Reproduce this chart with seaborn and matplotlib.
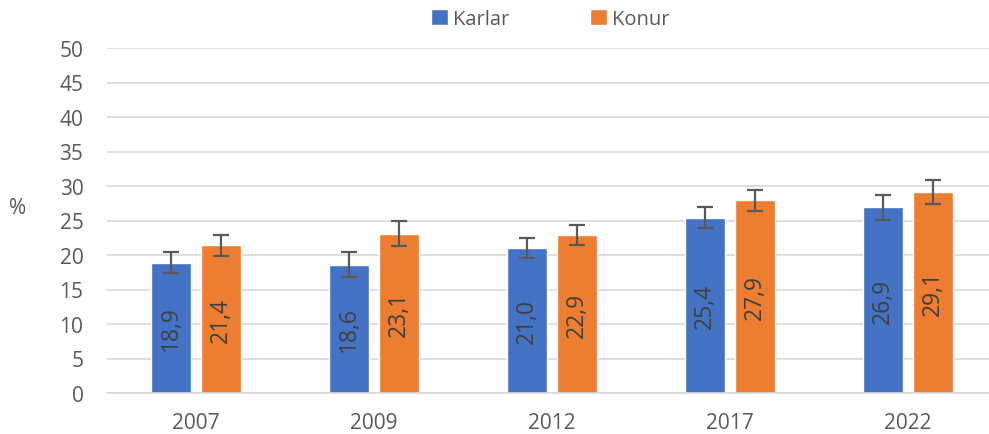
import matplotlib
matplotlib.use("Agg")
import matplotlib.pyplot as plt
import seaborn as sns
import pandas as pd
import numpy as np

years = ["2007", "2009", "2012", "2017", "2022"]
series = ["Karlar", "Konur"]
karlar = [18.9, 18.6, 21.0, 25.4, 26.9]
konur = [21.4, 23.1, 22.9, 27.9, 29.1]
karlar_err = [1.5, 1.8, 1.45, 1.55, 1.8]
konur_err = [1.5, 1.8, 1.4, 1.5, 1.7]
colors = ["#4472C4", "#ED7D31"]

df = pd.DataFrame({
    "year": years * 2,
    "series": [series[0]] * len(years) + [series[1]] * len(years),
    "value": karlar + konur,
    "err": karlar_err + konur_err,
})

sns.set_style("white")
plt.rcParams["font.family"] = ["Open Sans", "DejaVu Sans"]

fig = plt.figure(figsize=(9.89, 4.35), dpi=100)
ax = fig.add_axes([107 / 989, 1 - 394 / 435, 890 / 989, (394 - 49) / 435])

sns.barplot(data=df, x="year", y="value", hue="series", order=years,
            hue_order=series, palette=colors, width=0.56, gap=0.19,
            errorbar=None, ax=ax, saturation=1, legend=True)

# error bars and labels
for cont, s in zip(ax.containers, series):
    sub = df[df.series == s].set_index("year").loc[years]
    xs = [p.get_x() + p.get_width() / 2 for p in cont]
    ax.errorbar(xs, sub["value"].values, yerr=sub["err"].values, fmt="none",
                ecolor="#595959", elinewidth=1.6, capsize=5.5, capthick=1.6, zorder=5)
    ax.bar_label(cont, labels=[f"{v:.1f}".replace(".", ",") for v in sub["value"].values],
                 label_type="center", rotation=90, color="#404040", fontsize=16.5)

ax.set_xlim(-0.5, 4.5)
ax.set_ylim(0, 50)
ax.set_yticks(np.arange(0, 51, 5))
ax.yaxis.grid(True, color="#D9D9D9", linewidth=1.2)
ax.set_axisbelow(True)
for sp in ["top", "right", "left"]:
    ax.spines[sp].set_visible(False)
ax.spines["bottom"].set_color("#D9D9D9")
ax.spines["bottom"].set_linewidth(1.2)
ax.tick_params(axis="both", length=0, labelsize=15, labelcolor="#595959")
ax.tick_params(axis="x", pad=14)
ax.tick_params(axis="y", pad=17)
ax.set_xlabel("")
ax.set_ylabel("")
fig.text(18 / 989, 1 - 209 / 435, "%", fontsize=15, color="#595959",
         ha="center", va="center")

leg = ax.legend(loc="center", bbox_to_anchor=(550 / 989, 1 - 20 / 435),
                bbox_transform=fig.transFigure, ncol=2, frameon=False,
                fontsize=14.5, handlelength=0.85, handleheight=0.85,
                handletextpad=0.25, columnspacing=4.0)
for t in leg.get_texts():
    t.set_color("#595959")

fig.savefig("out.png", dpi=100)
